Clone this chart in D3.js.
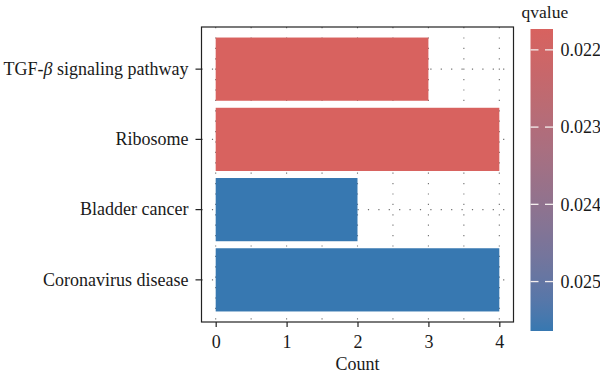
<!DOCTYPE html>
<html>
<head>
<meta charset="utf-8">
<script src="https://cdn.jsdelivr.net/npm/d3@7"></script>
<style>
  html, body { margin: 0; padding: 0; background: #fff; }
  svg { display: block; }
</style>
</head>
<body>
<svg id="chart" width="600" height="377"></svg>
<script>
// ---- data ----
const categories = ["TGF-β signaling pathway", "Ribosome", "Bladder cancer", "Coronavirus disease"];
const counts = [3, 4, 2, 4];
const qvalues = [0.02173, 0.02173, 0.02564, 0.02564];
const xTicks = [0, 1, 2, 3, 4];
const qTicks = [0.022, 0.023, 0.024, 0.025];
const qDomain = [0.02173, 0.02564];

const FONT = "'Liberation Serif'";
const FS = 18;

// ---- layout ----
const svg = d3.select("#chart");
const panel = { left: 201.5, right: 513.5, top: 27, bottom: 322 };

const x = d3.scaleLinear().domain([-0.2, 4.2]).range([panel.left, panel.right]);
const y = d3.scaleBand().domain(categories).range([panel.top, panel.bottom])
  .paddingInner(0.1).paddingOuter(0.15);
const color = d3.scaleLinear().domain(qDomain).range(["#D8625F", "#3778B1"])
  .interpolate(d3.interpolateLab);

// grid (dotted)
const gridX = d3.range(0, 4.01, 0.5);
const grid = svg.append("g").attr("stroke", "#707070").attr("stroke-width", 1.1)
  .attr("stroke-dasharray", "1.2,9.2");
grid.selectAll("line.v").data(gridX).join("line").attr("class", "v")
  .attr("x1", d => x(d)).attr("x2", d => x(d))
  .attr("y1", panel.top).attr("y2", panel.bottom);
grid.selectAll("line.h").data(categories).join("line").attr("class", "h")
  .attr("y1", d => y(d) + y.bandwidth() / 2).attr("y2", d => y(d) + y.bandwidth() / 2)
  .attr("x1", panel.left).attr("x2", panel.right);

// bars
svg.append("g").selectAll("rect").data(categories).join("rect")
  .attr("x", x(0))
  .attr("y", d => y(d))
  .attr("width", (d, i) => x(counts[i]) - x(0))
  .attr("height", y.bandwidth())
  .attr("fill", (d, i) => color(qvalues[i]));

// panel border
svg.append("rect").attr("x", panel.left).attr("y", panel.top)
  .attr("width", panel.right - panel.left).attr("height", panel.bottom - panel.top)
  .attr("fill", "none").attr("stroke", "#222").attr("stroke-width", 1.2);

// x axis
const xAxis = svg.append("g").attr("transform", `translate(0,${panel.bottom})`)
  .call(d3.axisBottom(x).tickValues(xTicks).tickFormat(d3.format("d")).tickSize(5).tickPadding(8));
xAxis.attr("font-family", FONT).attr("font-size", FS);
xAxis.select(".domain").remove();
xAxis.selectAll("line").attr("stroke", "#222").attr("stroke-width", 1.2);
xAxis.selectAll("text").attr("fill", "#1a1a1a");

svg.append("text").attr("x", x(2)).attr("y", 369.5).attr("text-anchor", "middle")
  .attr("font-family", FONT).attr("font-size", FS).attr("fill", "#1a1a1a").text("Count");

// y axis
const yAxis = svg.append("g").attr("transform", `translate(${panel.left},0)`)
  .call(d3.axisLeft(y).tickSize(6).tickPadding(7));
yAxis.attr("font-family", FONT).attr("font-size", FS);
yAxis.select(".domain").remove();
yAxis.selectAll("line").attr("stroke", "#222").attr("stroke-width", 1.2);
yAxis.selectAll("text").attr("fill", "#1a1a1a")
  .each(function(d) {
    const t = d3.select(this);
    if (d.indexOf("β") >= 0) {
      const parts = d.split("β");
      t.text(null);
      t.append("tspan").text(parts[0]);
      t.append("tspan").attr("font-style", "italic").text("β");
      t.append("tspan").text(parts[1]);
    }
  });

// colorbar legend
const cb = { x: 530.5, w: 22.5, top: 29, bottom: 331 };
const qy = d3.scaleLinear().domain(qDomain).range([cb.top, cb.bottom]);
const defs = svg.append("defs");
const grad = defs.append("linearGradient").attr("id", "qgrad")
  .attr("x1", 0).attr("x2", 0).attr("y1", 0).attr("y2", 1);
const stops = d3.range(0, 1.0001, 0.05);
grad.selectAll("stop").data(stops).join("stop")
  .attr("offset", d => d)
  .attr("stop-color", d => color(qDomain[0] + d * (qDomain[1] - qDomain[0])));
svg.append("rect").attr("x", cb.x).attr("y", cb.top).attr("width", cb.w)
  .attr("height", cb.bottom - cb.top).attr("fill", "url(#qgrad)");
const tk = svg.append("g").attr("stroke", "#f4eeee").attr("stroke-width", 1.3);
tk.selectAll("line.l").data(qTicks).join("line").attr("class", "l")
  .attr("x1", cb.x).attr("x2", cb.x + 8).attr("y1", d => qy(d)).attr("y2", d => qy(d));
tk.selectAll("line.r").data(qTicks).join("line").attr("class", "r")
  .attr("x1", cb.x + cb.w - 8).attr("x2", cb.x + cb.w).attr("y1", d => qy(d)).attr("y2", d => qy(d));
svg.append("g").attr("font-family", FONT).attr("font-size", FS).attr("fill", "#1a1a1a")
  .selectAll("text").data(qTicks).join("text")
  .attr("x", 560.5).attr("y", d => qy(d)).attr("dy", "0.35em")
  .text(d => d3.format(".3f")(d));
svg.append("text").attr("x", 521.5).attr("y", 18)
  .attr("font-family", FONT).attr("font-size", 17.5).attr("fill", "#1a1a1a").text("qvalue");
</script>
</body>
</html>
